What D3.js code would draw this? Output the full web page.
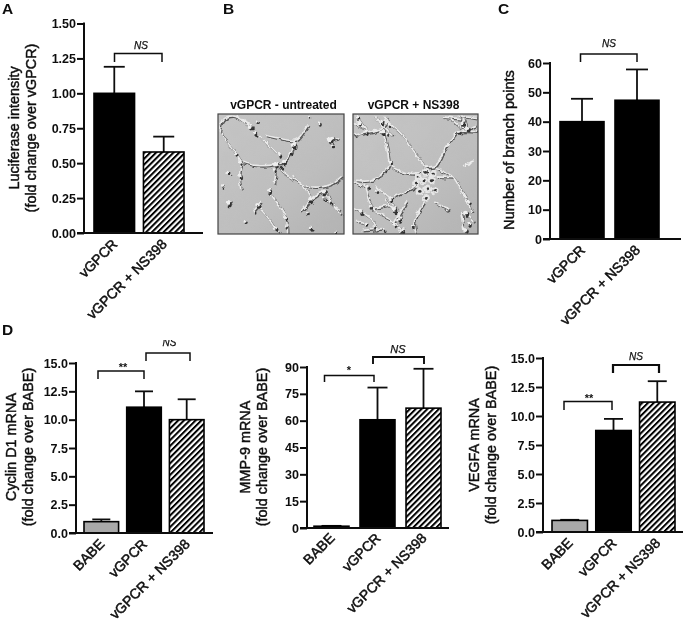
<!DOCTYPE html>
<html><head><meta charset="utf-8">
<script src="https://cdnjs.cloudflare.com/ajax/libs/d3/7.8.5/d3.min.js"></script>
<style>html,body{margin:0;background:#fff}svg{display:block}text{font-family:"Liberation Sans",Arial,sans-serif;fill:#111}</style>
</head><body><svg id="c" width="685" height="624"></svg>
<script>
// ---- data ----
const catsTwo = ["vGPCR", "vGPCR + NS398"];
const catsThree = ["BABE", "vGPCR", "vGPCR + NS398"];
const luciferaseMean = [1.00, 0.58];
const luciferaseTop = [1.19, 0.69];
const branchMean = [40, 47.3];
const branchTop = [47.8, 57.8];
const cyclinMean = [1.0, 11.1, 10.0];
const cyclinTop = [1.2, 12.5, 11.8];
const mmpMean = [1, 60.5, 67];
const mmpTop = [1.2, 78.5, 89];
const vegfaMean = [1.0, 8.75, 11.2];
const vegfaTop = [1.05, 9.75, 13.0];
const luciferaseTicks = [0, .25, .5, .75, 1, 1.25, 1.5];
const branchTicks = [0, 10, 20, 30, 40, 50, 60];
const foldTicks = [0, 2.5, 5, 7.5, 10, 12.5, 15];
const mmpTicks = [0, 15, 30, 45, 60, 75, 90];

const svg = d3.select("#c");
const defs = svg.append("defs");
const hatch = defs.append("pattern").attr("id", "hatch").attr("patternUnits", "userSpaceOnUse")
  .attr("width", 4.1).attr("height", 4.1).attr("patternTransform", "rotate(45)");
hatch.append("rect").attr("width", 4.1).attr("height", 4.1).attr("fill", "#fff");
hatch.append("rect").attr("width", 2).attr("height", 4.1).attr("fill", "#000");
defs.append("filter").attr("id", "textSoft").append("feGaussianBlur").attr("stdDeviation", .25);
const soft = defs.append("filter").attr("id", "soft").attr("x", "-5%").attr("y", "-5%").attr("width", "110%").attr("height", "110%");
soft.append("feTurbulence").attr("type", "fractalNoise").attr("baseFrequency", .16).attr("numOctaves", 2).attr("seed", 4).attr("result", "n");
soft.append("feDisplacementMap").attr("in", "SourceGraphic").attr("in2", "n").attr("scale", 5).attr("xChannelSelector", "R").attr("yChannelSelector", "G").attr("result", "d");
soft.append("feGaussianBlur").attr("in", "d").attr("stdDeviation", .55);
const grain = defs.append("filter").attr("id", "grain");
grain.append("feTurbulence").attr("type", "fractalNoise").attr("baseFrequency", .04).attr("numOctaves", 3).attr("seed", 9);
grain.append("feColorMatrix").attr("values", "0 0 0 0 .5  0 0 0 0 .5  0 0 0 0 .5  1.4 0 0 0 -.45");
defs.append("clipPath").attr("id", "nsClip").append("rect").attr("x", 130).attr("y", 340).attr("width", 60).attr("height", 7);

const root = svg.append("g").attr("filter", "url(#textSoft)");
const FILLS = {"BABE": "#a9a9a9", "vGPCR": "#000", "vGPCR + NS398": "url(#hatch)"};

function panel(o) {
  const g = root.append("g");
  const y = d3.scaleLinear().domain([o.ticks[0], o.ticks[o.ticks.length - 1]]).range([o.y0, o.y1]);
  const x = d3.scaleBand().domain(o.cats).range([o.b0, o.b1]).paddingInner(o.pad).paddingOuter(0);
  const yAxis = d3.axisLeft(y).tickValues(o.ticks).tickFormat(d3.format(o.fmt)).tickSize(7).tickPadding(1);
  const ag = g.append("g").attr("transform", `translate(${o.ax},0)`).call(yAxis);
  ag.selectAll("path,line").attr("stroke", "#111").attr("stroke-width", 2);
  ag.select("path").attr("d", `M0,${o.y0 + 1}V${o.y1 - 1}`);
  ag.selectAll("text").attr("font-size", 12.5).attr("font-weight", 700).style("font-family", '"Liberation Sans"');
  const xAxis = d3.axisBottom(x).tickSize(0).tickPadding(0);
  const xg = g.append("g").attr("transform", `translate(0,${o.y0})`).call(xAxis);
  xg.select("path").remove();
  xg.selectAll("text").attr("text-anchor", "end").attr("font-size", 14)
    .attr("font-weight", 400).attr("stroke", "#111").attr("stroke-width", .5)
    .attr("dy", 0).attr("y", 0).attr("x", 0)
    .attr("transform", `translate(4,${o.ldy || 12}) rotate(-45)`).style("font-family", '"Liberation Sans"');
  // error bars
  o.cats.forEach((c, i) => {
    const cx = x(c) + x.bandwidth() / 2;
    g.append("line").attr("x1", cx).attr("x2", cx).attr("y1", y(o.mean[i])).attr("y2", y(o.top[i])).attr("stroke", "#111").attr("stroke-width", 1.8);
    g.append("line").attr("x1", cx - o.cap).attr("x2", cx + o.cap).attr("y1", y(o.top[i])).attr("y2", y(o.top[i])).attr("stroke", "#111").attr("stroke-width", 1.8);
  });
  g.selectAll("rect.bar").data(o.cats).enter().append("rect").attr("class", "bar")
    .attr("x", c => x(c)).attr("width", x.bandwidth())
    .attr("y", (c, i) => y(o.mean[i])).attr("height", (c, i) => y(0) - y(o.mean[i]))
    .attr("fill", c => o.fills ? o.fills[c] : FILLS[c]).attr("stroke", "#000").attr("stroke-width", 1.6);
  g.append("line").attr("x1", o.ax - 7).attr("x2", o.xEnd).attr("y1", o.y0).attr("y2", o.y0).attr("stroke", "#111").attr("stroke-width", 2);
  // y label
  const lab = g.append("text").attr("transform", `translate(${o.lx},${o.ly}) rotate(-90)`).attr("text-anchor", "middle")
    .attr("font-size", o.lfs || 14.4).attr("stroke", "#111").attr("stroke-width", .45);
  o.label.forEach((t, i) => lab.append("tspan").attr("x", 0).attr("dy", i ? 16.5 : 0).text(t));
  // brackets
  o.brackets.forEach(b => {
    g.append("path").attr("d", `M${b.x0},${b.yb}V${b.yt}H${b.x1}V${b.yb}`).attr("fill", "none").attr("stroke", "#111").attr("stroke-width", b.sw || 1.5);
    const t = g.append("text").attr("x", b.tx).attr("y", b.ty).attr("text-anchor", "middle").text(b.t);
    if (b.t === "NS") t.attr("font-style", "italic").attr("font-size", b.fs || 10).attr("stroke", "#111").attr("stroke-width", .25);
    else t.attr("font-size", 11).attr("font-weight", 700);
    if (b.clip) t.attr("clip-path", "url(#nsClip)");
  });
}

panel({cats: catsTwo, mean: luciferaseMean, top: luciferaseTop, ticks: luciferaseTicks, fmt: ".2f",
  fills: {"vGPCR": "#000", "vGPCR + NS398": "url(#hatch)"},
  ax: 84, y0: 233, y1: 23.5, xEnd: 203, b0: 94, b1: 184, pad: .18, cap: 10.5,
  label: ["Luciferase intensity", "(fold change over vGPCR)"], lx: 19, ly: 128,
  brackets: [{x0: 114.5, x1: 162, yt: 53.5, yb: 62, t: "NS", tx: 141, ty: 49}]});
panel({cats: catsTwo, mean: branchMean, top: branchTop, ticks: branchTicks, fmt: "d",
  fills: {"vGPCR": "#000", "vGPCR + NS398": "#000"},
  ax: 550, y0: 239, y1: 63, xEnd: 681, b0: 560, b1: 659, pad: .2, cap: 11,
  label: ["Number of branch points"], lx: 514, ly: 150, lfs: 14.6,
  brackets: [{x0: 580.5, x1: 637, yt: 54, yb: 62, t: "NS", tx: 609, ty: 47}]});
panel({cats: catsThree, mean: cyclinMean, top: cyclinTop, ticks: foldTicks, fmt: ".1f",
  ax: 76, y0: 533, y1: 363, xEnd: 213, b0: 84, b1: 204, pad: .19, cap: 9,
  label: ["Cyclin D1 mRNA", "(fold change over BABE)"], lx: 16, ly: 447,
  brackets: [{x0: 98, x1: 144, yt: 371, yb: 379, t: "**", tx: 123, ty: 371},
             {x0: 146, x1: 190, yt: 353, yb: 361, t: "NS", tx: 169.5, ty: 346, clip: true}]});
panel({cats: catsThree, mean: mmpMean, top: mmpTop, ticks: mmpTicks, fmt: "d", ldy: 11,
  fills: {"BABE": "#000", "vGPCR": "#000", "vGPCR + NS398": "url(#hatch)"},
  ax: 307, y0: 528, y1: 367, xEnd: 449, b0: 314, b1: 441, pad: .24, cap: 10,
  label: ["MMP-9 mRNA", "(fold change over BABE)"], lx: 250, ly: 447,
  brackets: [{x0: 324.5, x1: 374, yt: 375.5, yb: 382, t: "*", tx: 349, ty: 374},
             {x0: 373, x1: 424, yt: 357, yb: 364, t: "NS", tx: 398, ty: 353, fs: 11, sw: 1.9}]});
panel({cats: catsThree, mean: vegfaMean, top: vegfaTop, ticks: foldTicks, fmt: ".1f",
  ax: 543, y0: 532, y1: 358, xEnd: 683, b0: 552, b1: 675, pad: .19, cap: 9.5,
  label: ["VEGFA mRNA", "(fold change over BABE)"], lx: 479, ly: 445,
  brackets: [{x0: 564, x1: 612, yt: 401.5, yb: 410, t: "**", tx: 589, ty: 402},
             {x0: 613, x1: 659, yt: 365, yb: 373, t: "NS", tx: 636, ty: 360, fs: 10, sw: 2.2}]});

// panel letters
const letters = [["A", 2, 14], ["B", 223, 14], ["C", 498, 14], ["D", 2, 335]];
letters.forEach(l => root.append("text").attr("x", l[1]).attr("y", l[2]).attr("font-size", 15.5).attr("font-weight", 700).text(l[0]));

// ---- micrographs (traced vessel network, in crop units) ----
const leftVessels = [
 [[10,60],[20,25],[50,12],[90,30],[115,55],[150,90],[190,130]],
 [[15,60],[35,95],[60,125],[75,150],[70,195],[75,235]],
 [[60,12],[105,45]], [[80,150],[120,160],[160,160],[185,155]],
 [[150,70],[230,85],[245,80],[275,40]],
 [[235,90],[225,125],[205,150],[185,160],[215,190],[255,215],[285,260]],
 [[230,190],[260,218],[310,225],[350,215],[378,195]],
 [[160,240],[190,285],[210,320],[215,365]], [[120,280],[150,310],[180,355]],
 [[285,260],[325,240],[345,270],[378,310]], [[285,265],[255,300]],
 [[180,180],[175,215]], [[325,260],[375,295]], [[175,350],[190,360]],
 [[340,85],[370,80]], [[345,85],[350,105]], [[30,180],[45,190]], [[30,275],[50,270]], [[115,295],[135,270]]];
const leftBlobs = [[105,45,6],[120,65,5],[190,130,6],[183,158,9],[205,150,6],[235,100,7],[225,125,4],[60,125,5],[75,150,5],[70,195,6],
 [35,180,6],[18,225,5],[38,275,7],[125,280,6],[115,300,4],[160,238,6],[88,330,5],[210,320,5],[210,345,4],[285,265,7],[325,240,8],[325,260,6],[345,85,9],
 [350,100,5],[275,305,4],[285,350,5],[360,360,4],[310,35,5],[125,28,4],[345,270,4],[180,350,5],[280,15,3],[175,175,5],[195,165,4]];
const rightVessels = [
 [[10,70],[50,60],[90,50],[110,25],[100,15]], [[20,25],[50,60]], [[10,35],[40,50]], [[15,10],[35,40]],
 [[95,50],[110,120],[120,160],[185,185],[210,175]], [[70,10],[95,45]], [[85,30],[125,70]],
 [[100,22],[150,65],[180,105],[220,165]],
 [[220,165],[255,160],[285,105],[305,75],[320,60],[378,60]],
 [[255,170],[305,195],[335,245],[365,300]],
 [[15,205],[60,205],[105,175],[120,150]], [[255,195],[305,197]],
 [[40,215],[55,270],[75,300],[130,330],[150,360]], [[75,225],[120,265],[150,320]], [[10,210],[45,225]],
 [[10,290],[60,320],[80,355]], [[130,255],[190,225]], [[100,260],[130,300]], [[60,290],[110,280]],
 [[220,270],[190,330],[195,365]], [[170,265],[130,330]], [[250,270],[295,295]],
 [[300,20],[340,50],[378,40]], [[275,15],[330,20]], [[320,10],[378,20]], [[340,20],[350,55]],
 [[340,300],[370,330]], [[330,300],[340,360]], [[35,355],[95,350]], [[15,325],[50,340]]];
const rightBlobs = [[25,35,5],[45,62,6],[95,30,6],[95,60,7],[110,65,5],[118,150,6],[105,175,4],[50,225,5],[75,235,4],[120,262,5],[130,295,7],
 [145,325,6],[60,285,4],[30,300,5],[45,335,5],[100,355,4],[335,35,8],[350,50,7],[325,60,5],[355,270,5],[345,305,8],[355,335,5],[345,355,6],[155,355,5],[185,345,4],
 [70,345,4],[130,340,5],[20,15,4],[115,40,4]];
const rightRing = [[200,195],[222,180],[245,185],[195,215],[218,205],[240,205],[205,237],[228,232],[248,235],[225,258]];
const arrowMarks = [[345,155],[360,150],[290,100]];

function micro(x0, y0, size, vessels, blobs, ring) {
  const sx = d3.scaleLinear().domain([0, 390]).range([x0 - 2, x0 + 128]);
  const sy = d3.scaleLinear().domain([0, 372]).range([y0 - 2, y0 + 122]);
  const id = "m" + x0;
  defs.append("clipPath").attr("id", id).append("rect").attr("x", x0).attr("y", y0).attr("width", size[0]).attr("height", size[1]);
  const grad = defs.append("linearGradient").attr("id", id + "g").attr("x1", 0).attr("y1", 0).attr("x2", 1).attr("y2", 1);
  grad.append("stop").attr("offset", 0).attr("stop-color", "#c6c6c6");
  grad.append("stop").attr("offset", .6).attr("stop-color", "#bebebe");
  grad.append("stop").attr("offset", 1).attr("stop-color", "#b2b2b2");
  const g = svg.append("g").attr("clip-path", `url(#${id})`);
  g.append("rect").attr("x", x0).attr("y", y0).attr("width", size[0]).attr("height", size[1]).attr("fill", `url(#${id}g)`);
  g.append("rect").attr("x", x0).attr("y", y0).attr("width", size[0]).attr("height", size[1]).attr("filter", "url(#grain)").attr("opacity", .35);
  const m = g.append("g").attr("filter", "url(#soft)");
  const line = d3.line().x(d => sx(d[0])).y(d => sy(d[1])).curve(d3.curveCatmullRom);
  const lw = ring ? 1.8 : 1.6;
  vessels.forEach(v => m.append("path").attr("d", line(v)).attr("transform", "translate(.9,1)").attr("fill", "none").attr("stroke", "#555").attr("stroke-width", lw + .3));
  vessels.forEach(v => m.append("path").attr("d", line(v)).attr("fill", "none").attr("stroke", "#e9e9e9").attr("stroke-width", lw));
  blobs.forEach(b => {
    m.append("ellipse").attr("cx", sx(b[0]) + .9).attr("cy", sy(b[1]) + 1.1).attr("rx", b[2] / 3.2).attr("ry", b[2] / 2.6).attr("fill", "#333");
    m.append("ellipse").attr("cx", sx(b[0]) - .5).attr("cy", sy(b[1]) - .6).attr("rx", b[2] / 3.2).attr("ry", b[2] / 3.6).attr("fill", "#eee");
  });
  if (ring) {
    ring.forEach(b => m.append("circle").attr("cx", sx(b[0])).attr("cy", sy(b[1])).attr("r", 3.8).attr("fill", "#e6e6e6"));
    ring.forEach(b => m.append("ellipse").attr("cx", sx(b[0]) + .5).attr("cy", sy(b[1]) + .4).attr("rx", 1.7).attr("ry", 1.4).attr("fill", "#333"));
    arrowMarks.forEach(b => m.append("path").attr("d", line([[b[0] - 8, b[1] + 8], [b[0], b[1]], [b[0] + 8, b[1] - 3]])).attr("fill", "none").attr("stroke", "#eee").attr("stroke-width", 1.6));
  }
  svg.append("rect").attr("x", x0).attr("y", y0).attr("width", size[0]).attr("height", size[1]).attr("fill", "none").attr("stroke", "#444").attr("stroke-width", 1.2);
}
micro(218, 114, [126, 120], leftVessels, leftBlobs);
micro(353, 114, [125, 120], rightVessels, rightBlobs, rightRing);

const titles = [["vGPCR - untreated", 283.5], ["vGPCR + NS398", 413.5]];
titles.forEach(t => root.append("text").attr("x", t[1]).attr("y", 109).attr("text-anchor", "middle").attr("font-size", 12).attr("font-weight", 700).text(t[0]));
</script></body></html>
